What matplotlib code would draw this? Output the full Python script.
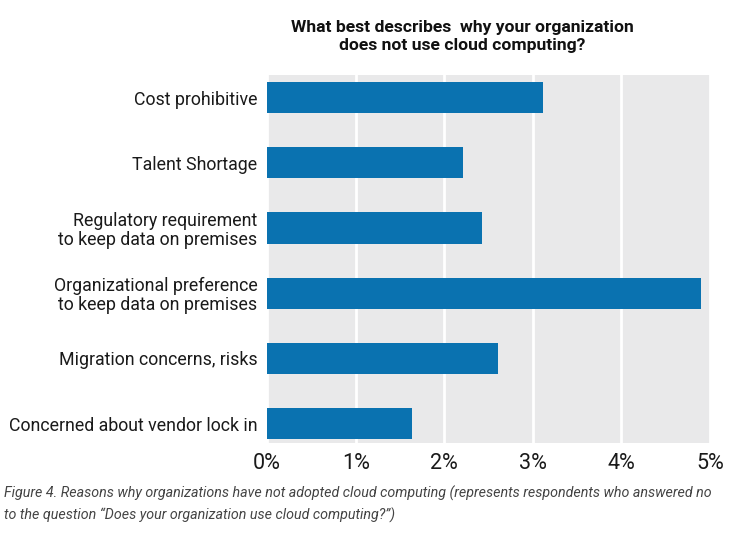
import numpy as np
import matplotlib.pyplot as plt
from matplotlib.ticker import FuncFormatter

# reasons, top to bottom as drawn
reasons = [
    "Cost prohibitive",
    "Talent Shortage",
    "Regulatory requirement\nto keep data on premises",
    "Organizational preference\nto keep data on premises",
    "Migration concerns, risks",
    "Concerned about vendor lock in",
]
percent = [3.11, 2.21, 2.42, 4.90, 2.61, 1.63]
xticks = [0, 1, 2, 3, 4, 5]

title = "What best describes  why your organization\ndoes not use cloud computing?"
caption = ("Figure 4. Reasons why organizations have not adopted cloud computing (represents respondents who answered no\n"
           "to the question \u201cDoes your organization use cloud computing?\u201d)")

BAR_COLOR = "#0a72b0"
PANEL_COLOR = "#e9e9ea"

plt.rcParams['font.family'] = ['Roboto', 'DejaVu Sans']

fig = plt.figure(figsize=(7.32, 5.34), dpi=100)
ax = fig.add_axes([0.365, 0.170, 0.605, 0.690])

pos = np.arange(len(reasons))
ax.barh(pos, percent, height=0.48, color=BAR_COLOR, zorder=3)
ax.set_ylim(len(reasons) - 1 + 0.30, -0.35)
ax.set_xlim(0, 5.0)

ax.set_facecolor(PANEL_COLOR)
ax.set_xticks(xticks)
ax.xaxis.set_major_formatter(FuncFormatter(lambda v, p: f"{v:.0f}%"))
ax.grid(axis='x', color='white', linewidth=2, zorder=1)
ax.set_yticks(pos)
ax.set_yticklabels(reasons, fontsize=12.8, linespacing=1.05, color="#1a1a1a")
for lab in ax.get_yticklabels():
    lab.set_horizontalalignment('right')
ax.tick_params(axis='y', length=0, pad=7)
ax.tick_params(axis='x', length=0, pad=7, labelsize=15.5, labelcolor="#1a1a1a")
for s in ax.spines.values():
    s.set_visible(False)

fig.text(0.632, 0.932, title, ha='center', va='center', fontsize=12.6, fontweight='bold',
         linespacing=1.25, color="#111111")
fig.text(0.006, 0.056, caption, ha='left', va='center', fontsize=10.3, style='italic',
         color="#444444", linespacing=1.55)

fig.savefig("out.png", dpi=100, facecolor='white')
